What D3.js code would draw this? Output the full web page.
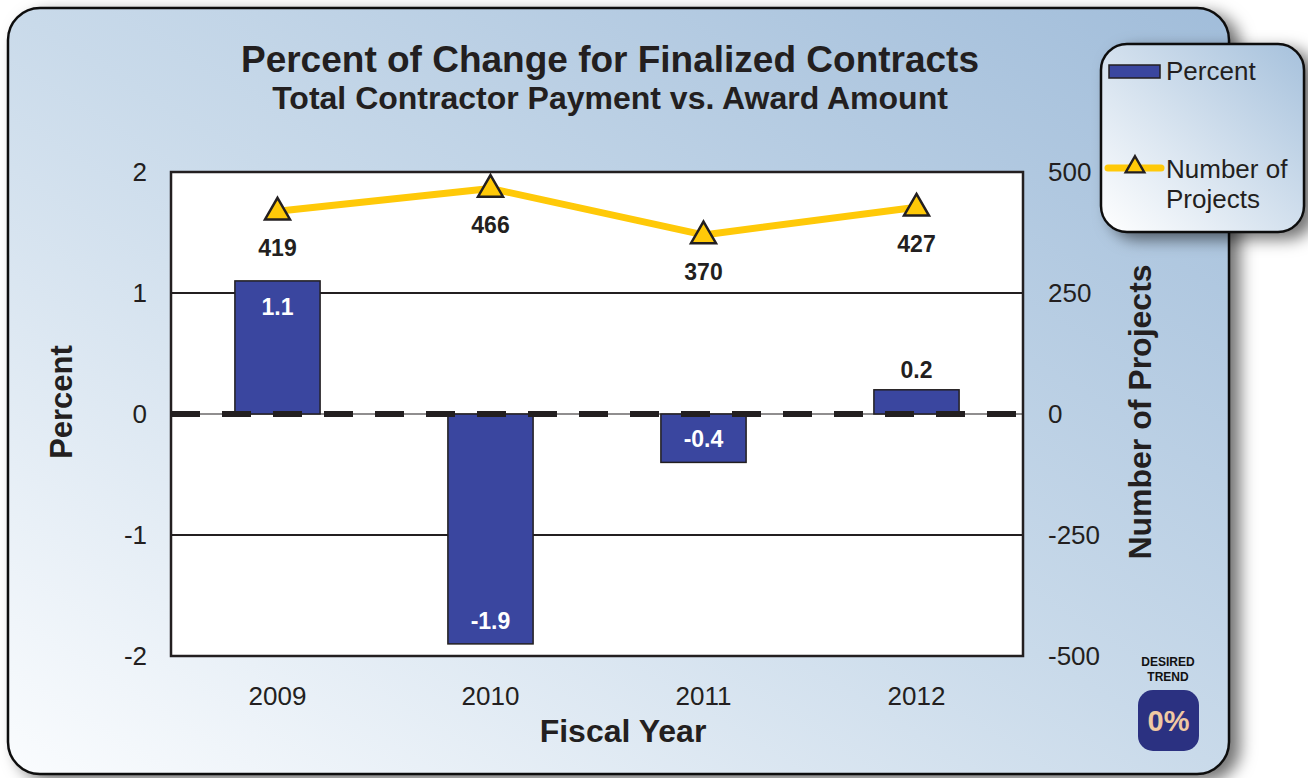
<!DOCTYPE html>
<html>
<head>
<meta charset="utf-8">
<script src="https://cdn.jsdelivr.net/npm/d3@7"></script>
<style>
html,body{margin:0;padding:0;background:#fff;}
svg{display:block;font-family:Arial,"Liberation Sans",Helvetica,sans-serif;}
</style>
</head>
<body>
<svg id="chart" width="1308" height="778"></svg>
<script>
const years = ["2009","2010","2011","2012"];
const percentValues = [1.1, -1.9, -0.4, 0.2];
const projectCounts = [419, 466, 370, 427];
const leftTicks = [-2, -1, 0, 1, 2];
const rightTicks = [-500, -250, 0, 250, 500];

const svg = d3.select("#chart");
const defs = svg.append("defs");
const ink = "#231f20";
const fmt = d => String(d); // keeps ASCII hyphen for negatives

const g1 = defs.append("linearGradient").attr("id","panelGrad")
  .attr("x1","0").attr("y1","1").attr("x2","1").attr("y2","0");
g1.append("stop").attr("offset","0").attr("stop-color","#fafcfe");
g1.append("stop").attr("offset","0.5").attr("stop-color","#c9daea");
g1.append("stop").attr("offset","1").attr("stop-color","#a1bdda");

const g2 = defs.append("linearGradient").attr("id","legGrad")
  .attr("x1","0").attr("y1","1").attr("x2","1").attr("y2","0");
g2.append("stop").attr("offset","0").attr("stop-color","#ffffff");
g2.append("stop").attr("offset","1").attr("stop-color","#a6c1dc");

const f = defs.append("filter").attr("id","shadow")
  .attr("x","-10%").attr("y","-10%").attr("width","130%").attr("height","130%");
f.append("feDropShadow").attr("dx",10).attr("dy",6).attr("stdDeviation",8)
  .attr("flood-color","#000").attr("flood-opacity",0.55);

// main panel
svg.append("rect").attr("x",8).attr("y",8).attr("width",1221).attr("height",766)
  .attr("rx",32).attr("ry",32).attr("fill","url(#panelGrad)")
  .attr("stroke","#111").attr("stroke-width",2.5).attr("filter","url(#shadow)");

const plot = {left:171, right:1023, top:172, bottom:656};

const xc = d3.scaleBand().domain(years).range([plot.left, plot.right]);
const y = d3.scaleLinear().domain([-2,2]).range([plot.bottom, plot.top]);
const y2 = d3.scaleLinear().domain([-500,500]).range([plot.bottom, plot.top]);
const cx = (i)=>xc(years[i])+xc.bandwidth()/2;
const barW = xc.bandwidth()*0.4;

// plot background
svg.append("rect").attr("x",plot.left).attr("y",plot.top)
  .attr("width",plot.right-plot.left).attr("height",plot.bottom-plot.top)
  .attr("fill","#fff");

// gridlines
svg.append("g").selectAll("line").data([1,-1,0]).join("line")
  .attr("x1",plot.left).attr("x2",plot.right)
  .attr("y1",d=>y(d)).attr("y2",d=>y(d))
  .attr("stroke",ink).attr("stroke-width",d=>d===0?1.2:2);

// bars
const barColor = "#3a469f";
svg.append("g").selectAll("rect").data(percentValues).join("rect")
  .attr("x",(d,i)=>cx(i)-barW/2)
  .attr("width",barW)
  .attr("y",d=>y(Math.max(0,d)))
  .attr("height",d=>Math.abs(y(d)-y(0)))
  .attr("fill",barColor).attr("stroke",ink).attr("stroke-width",1.5);

// dashed zero line
svg.append("line").attr("x1",plot.left).attr("x2",plot.right-2)
  .attr("y1",y(0)).attr("y2",y(0))
  .attr("stroke",ink).attr("stroke-width",6).attr("stroke-dasharray","29 22");

// plot frame
svg.append("rect").attr("x",plot.left).attr("y",plot.top)
  .attr("width",plot.right-plot.left).attr("height",plot.bottom-plot.top)
  .attr("fill","none").attr("stroke",ink).attr("stroke-width",2.5);

// bar labels
svg.append("g").selectAll("text").data(percentValues).join("text")
  .attr("x",(d,i)=>cx(i))
  .attr("y",(d)=>{
    if (d >= 0.5) return y(d)+34;
    if (d >= 0) return y(d)-12;
    return y(d)-15;
  })
  .attr("text-anchor","middle").attr("font-size",23).attr("font-weight","bold")
  .attr("fill",d=>(d>=0 && d<0.5)?ink:"#ffffff")
  .text(d=>d.toFixed(1));

// line
const line = d3.line().x((d,i)=>cx(i)).y(d=>y2(d));
svg.append("path").datum(projectCounts).attr("d",line)
  .attr("fill","none").attr("stroke","#ffc908").attr("stroke-width",7)
  .attr("stroke-linejoin","round");

const tri = d3.symbol().type(d3.symbolTriangle).size(270);
svg.append("g").selectAll("path").data(projectCounts).join("path")
  .attr("d",tri)
  .attr("transform",(d,i)=>`translate(${cx(i)},${y2(d)+1})`)
  .attr("fill","#ffc908").attr("stroke",ink).attr("stroke-width",2.5);

svg.append("g").selectAll("text").data(projectCounts).join("text")
  .attr("x",(d,i)=>cx(i)).attr("y",d=>y2(d)+45)
  .attr("text-anchor","middle").attr("font-size",23).attr("font-weight","bold")
  .attr("fill",ink).text(d=>d);

// left axis
const leftAxis = d3.axisLeft(y).tickValues(leftTicks).tickSize(0).tickPadding(24).tickFormat(fmt);
const la = svg.append("g").attr("transform",`translate(${plot.left},0)`).call(leftAxis);
la.select(".domain").remove();
la.selectAll("text").attr("font-size",26).attr("fill",ink).attr("font-family","Arial,'Liberation Sans',sans-serif");

// right axis
const rightAxis = d3.axisRight(y2).tickValues(rightTicks).tickSize(0).tickPadding(25).tickFormat(fmt);
const ra = svg.append("g").attr("transform",`translate(${plot.right},0)`).call(rightAxis);
ra.select(".domain").remove();
ra.selectAll("text").attr("font-size",26).attr("fill",ink).attr("font-family","Arial,'Liberation Sans',sans-serif");

// bottom axis
const bottomAxis = d3.axisBottom(xc).tickSize(0);
const ba = svg.append("g").attr("transform",`translate(0,${plot.bottom})`).call(bottomAxis);
ba.select(".domain").remove();
ba.selectAll("text").attr("y",49).attr("dy",0).attr("font-size",26).attr("fill",ink).attr("font-family","Arial,'Liberation Sans',sans-serif");

// titles
svg.append("text").attr("x",610).attr("y",72).attr("text-anchor","middle")
  .attr("font-size",37).attr("font-weight","bold").attr("fill",ink)
  .text("Percent of Change for Finalized Contracts");
svg.append("text").attr("x",610).attr("y",109).attr("text-anchor","middle")
  .attr("font-size",32).attr("font-weight","bold").attr("fill",ink)
  .text("Total Contractor Payment vs. Award Amount");

svg.append("text").attr("transform","translate(72,402) rotate(-90)").attr("text-anchor","middle")
  .attr("font-size",31).attr("font-weight","bold").attr("fill",ink).text("Percent");
svg.append("text").attr("transform","translate(1151,412) rotate(-90)").attr("text-anchor","middle")
  .attr("font-size",32).attr("font-weight","bold").attr("fill",ink).text("Number of Projects");
svg.append("text").attr("x",623).attr("y",742).attr("text-anchor","middle")
  .attr("font-size",32).attr("font-weight","bold").attr("fill",ink).text("Fiscal Year");

// legend
const leg = svg.append("g");
leg.append("rect").attr("x",1101).attr("y",44).attr("width",203).attr("height",188)
  .attr("rx",26).attr("ry",26).attr("fill","url(#legGrad)")
  .attr("stroke","#111").attr("stroke-width",2.5).attr("filter","url(#shadow)");
leg.append("rect").attr("x",1109).attr("y",65).attr("width",51).attr("height",13)
  .attr("fill",barColor).attr("stroke",ink).attr("stroke-width",1.5);
leg.append("text").attr("x",1166).attr("y",80).attr("font-size",26).attr("fill",ink).text("Percent");
leg.append("line").attr("x1",1108).attr("x2",1161).attr("y1",168).attr("y2",168)
  .attr("stroke","#ffc908").attr("stroke-width",7).attr("stroke-linecap","round");
leg.append("path").attr("d",d3.symbol().type(d3.symbolTriangle).size(150))
  .attr("transform","translate(1135,167)")
  .attr("fill","#ffc908").attr("stroke",ink).attr("stroke-width",2.4);
leg.append("text").attr("x",1166).attr("y",178).attr("font-size",26).attr("fill",ink).text("Number of");
leg.append("text").attr("x",1166).attr("y",208).attr("font-size",26).attr("fill",ink).text("Projects");

// desired trend badge
svg.append("text").attr("x",1168).attr("y",666).attr("text-anchor","middle")
  .attr("font-size",12).attr("font-weight","bold").attr("fill","#111").text("DESIRED");
svg.append("text").attr("x",1168).attr("y",681).attr("text-anchor","middle")
  .attr("font-size",12).attr("font-weight","bold").attr("fill","#111").text("TREND");
svg.append("rect").attr("x",1138).attr("y",690).attr("width",61).attr("height",61)
  .attr("rx",15).attr("ry",15).attr("fill","#2b3181");
svg.append("text").attr("x",1168.5).attr("y",731).attr("text-anchor","middle")
  .attr("font-size",29).attr("font-weight","600").attr("fill","#f0c9a3").text("0%");
</script>
</body>
</html>
